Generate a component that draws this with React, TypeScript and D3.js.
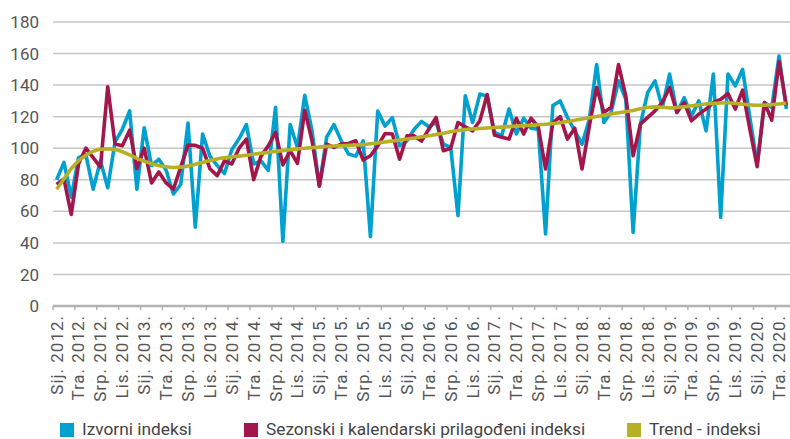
import React, { useEffect, useRef } from 'react';
import * as d3 from 'd3';

// mjesečni podaci, sij. 2012. - svi. 2020.
const izvorni = [
  80, 91, 69, 94, 96, 74, 92, 75, 104, 112, 123.6, 74,
  113, 89, 93, 86, 71, 77, 116, 50, 109, 95, 89, 84,
  99, 106, 115, 90, 92, 86, 126, 41, 115, 100.5, 133.5, 111,
  76, 107, 115, 104.7, 96.3, 95, 104.7, 44, 123.6, 114, 119.4, 101.5,
  104.7, 112, 117, 113.6, 116.3, 102.6, 100.5, 57.3, 133.2, 116.3, 134.3, 133,
  110, 108, 124.8, 109, 119, 112.7, 112, 45.7, 127, 130, 119.5, 111,
  102.6, 118.4, 153, 116.3, 123, 142.7, 131, 46.7, 115.3, 135.3, 142.7, 125.8,
  147, 122.7, 132, 120.5, 130, 111, 147, 56.2, 147, 139.5, 150, 119.5,
  90, 129, 125.8, 158.5, 124.8
];

const sezonski = [
  77, 80.5, 58, 90, 100, 94, 88, 139, 102.6, 101.5, 111.4, 87,
  100, 78, 85, 78, 74, 88, 102, 101.8, 100, 87, 82.6, 92,
  90, 100, 105.7, 80, 95, 101.5, 110, 89.4, 98.4, 90.4, 124, 104.7,
  76, 102.6, 100.5, 102.6, 103, 104.7, 92.5, 95.2, 101.5, 109.3, 109, 93,
  107.8, 107.8, 104.5, 112, 119.5, 98.4, 100, 116.3, 113.6, 111, 117.4, 134,
  108.3, 107, 105.8, 119, 109, 119, 113.6, 86.8, 116, 120, 105.8, 112.7,
  86.8, 114, 138.5, 122.7, 126, 153, 133, 95.2, 115.3, 119.5, 123.7, 129,
  138.5, 122.7, 129, 117.4, 121.6, 124.8, 129, 131, 134.7, 124.8, 136.8, 112,
  88.3, 129, 117.8, 155, 127
];

const trend = [
  74, 80.5, 87, 92, 95.5, 98, 99.3, 99.6, 99.2, 97.8, 95.8, 93.6,
  91.8, 90.2, 89, 88.2, 87.8, 88, 88.7, 89.8, 91, 92.2, 93.2, 94,
  94.6, 95, 95.6, 96.2, 96.8, 97.4, 98, 98.5, 99, 99.6, 100, 100.4,
  100.8, 101.1, 101.4, 101.6, 101.8, 102, 102.3, 102.8, 103.4, 104, 104.6, 105.2,
  105.8, 106.5, 107.2, 107.9, 108.7, 109.5, 110.4, 111.2, 111.8, 112.2, 112.5, 112.8,
  113.1, 113.4, 113.7, 114, 114.3, 114.6, 114.9, 115.2, 115.6, 116.2, 116.9, 117.7,
  118.5, 119.3, 120.1, 120.9, 121.7, 122.5, 123.2, 123.9, 125, 125.8, 126.2, 126,
  125.5, 125.8, 126.3, 126.9, 127.5, 128, 128.4, 128.7, 128.8, 128.4, 127.9, 127.5,
  127.2, 127.3, 127.6, 128, 128.5
];

// oznake svaka tri mjeseca
const tickLabels = [
  'Sij. 2012.', 'Tra. 2012.', 'Srp. 2012.', 'Lis. 2012.',
  'Sij. 2013.', 'Tra. 2013.', 'Srp. 2013.', 'Lis. 2013.',
  'Sij. 2014.', 'Tra. 2014.', 'Srp. 2014.', 'Lis. 2014.',
  'Sij. 2015.', 'Tra. 2015.', 'Srp. 2015.', 'Lis. 2015.',
  'Sij. 2016.', 'Tra. 2016.', 'Srp. 2016.', 'Lis. 2016.',
  'Sij. 2017.', 'Tra. 2017.', 'Srp. 2017.', 'Lis. 2017.',
  'Sij. 2018.', 'Tra. 2018.', 'Srp. 2018.', 'Lis. 2018.',
  'Sij. 2019.', 'Tra. 2019.', 'Srp. 2019.', 'Lis. 2019.',
  'Sij. 2020.', 'Tra. 2020.'
];

const yTicks = [0, 20, 40, 60, 80, 100, 120, 140, 160, 180];

const seriesNames = ['Izvorni indeksi', 'Sezonski i kalendarski prilagođeni indeksi', 'Trend - indeksi'];
const colors = ['#00a0cf', '#a3164c', '#b7b024'];

const W = 790;
const H = 439;
const FONT = 'Roboto, "Noto Sans", sans-serif';

const App = () => {
  const ref = useRef<SVGSVGElement>(null);

  useEffect(() => {
    const svg = d3.select(ref.current);
    svg.selectAll('*').remove();

    const margin = { top: 22, right: 0, bottom: 133, left: 53 };

    const x = d3.scalePoint<number>()
      .domain(d3.range(izvorni.length))
      .range([margin.left, W - margin.right])
      .padding(0.5);
    const step = x.step();

    const y = d3.scaleLinear()
      .domain([0, 180])
      .range([H - margin.bottom, margin.top]);

    // grid
    svg.append('g')
      .selectAll('line')
      .data(yTicks.filter(d => d > 0))
      .enter().append('line')
      .attr('x1', margin.left)
      .attr('x2', W)
      .attr('y1', d => y(d))
      .attr('y2', d => y(d))
      .style('stroke', '#c6c6c6')
      .style('stroke-width', 1.5);

    // y labels
    svg.append('g')
      .selectAll('text')
      .data(yTicks)
      .enter().append('text')
      .attr('x', 39)
      .attr('y', d => y(d))
      .attr('dy', '0.36em')
      .attr('text-anchor', 'end')
      .style('font-family', FONT)
      .style('font-size', '17px')
      .style('fill', '#555')
      .text(d => d);

    // x axis line + ticks
    svg.append('line')
      .attr('x1', margin.left)
      .attr('x2', W)
      .attr('y1', y(0))
      .attr('y2', y(0))
      .style('stroke', '#b3b3b3')
      .style('stroke-width', 2.5);

    const tickIdx = d3.range(0, izvorni.length, 3);
    svg.append('g')
      .selectAll('line')
      .data(tickIdx)
      .enter().append('line')
      .attr('x1', d => x(d)! - step / 2)
      .attr('x2', d => x(d)! - step / 2)
      .attr('y1', y(0))
      .attr('y2', y(0) + 4)
      .style('stroke', '#b3b3b3')
      .style('stroke-width', 1.5);

    svg.append('g')
      .selectAll('text')
      .data(tickLabels)
      .enter().append('text')
      .attr('transform', (d, i) => `translate(${x(i * 3)}, ${y(0) + 9}) rotate(-90)`)
      .attr('dy', '0.35em')
      .attr('text-anchor', 'end')
      .style('font-family', FONT)
      .style('font-size', '17px')
      .style('letter-spacing', '1px')
      .style('fill', '#555')
      .text(d => d);

    // lines
    const lineStraight = d3.line<number>()
      .x((d, i) => x(i)!)
      .y(d => y(d));
    const lineSmooth = d3.line<number>()
      .x((d, i) => x(i)!)
      .y(d => y(d))
      .curve(d3.curveMonotoneX);

    [izvorni, sezonski, trend].forEach((series, k) => {
      svg.append('path')
        .datum(series)
        .attr('d', k === 2 ? lineSmooth : lineStraight)
        .style('fill', 'none')
        .style('stroke', colors[k])
        .style('stroke-width', 3.6)
        .style('stroke-linejoin', 'round');
    });

    // legend
    const legendX = [60, 244, 627];
    const legend = svg.append('g');
    seriesNames.forEach((name, k) => {
      legend.append('rect')
        .attr('x', legendX[k])
        .attr('y', 423)
        .attr('width', 14)
        .attr('height', 14)
        .style('fill', colors[k]);
      legend.append('text')
        .attr('x', legendX[k] + 22)
        .attr('y', 435)
        .style('font-family', FONT)
        .style('font-size', '17.3px')
        .style('fill', '#444')
        .text(name);
    });
  }, []);

  return (
    <svg ref={ref} width={W} height={H}
      style={{ position: 'absolute', left: 0, top: 0, background: '#fff' }} />
  );
};

export default App;
